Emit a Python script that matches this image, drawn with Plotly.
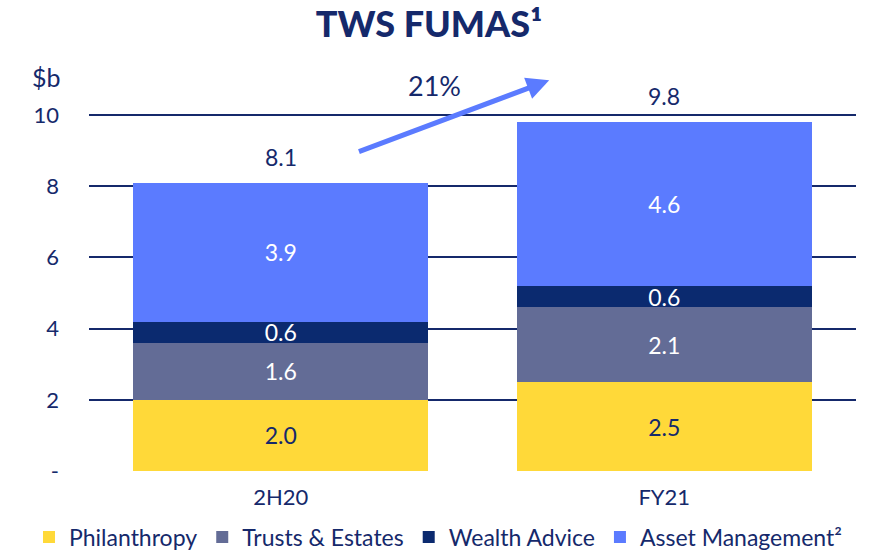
import plotly.graph_objects as go

categories = ["2H20", "FY21"]
philanthropy = [2.0, 2.5]
trusts = [1.6, 2.1]
wealth = [0.6, 0.6]
asset = [3.9, 4.6]
totals = [8.1, 9.8]
growth_label = "21%"
ytick_vals = [0, 2, 4, 6, 8, 10]
ytick_text = ["-", "2", "4", "6", "8", "10"]

NAVY = "#15296b"
FONT = "Lato"

W, H = 886, 551
ML, MR, MT, MB = 89, 30, 76, 80
PW, PH = W - ML - MR, H - MT - MB


def px_x(p):
    return (p - ML) / PW


def px_y(p):
    return (H - MB - p) / PH


series = [
    ("Philanthropy", philanthropy, "#ffd939", NAVY),
    ("Trusts & Estates", trusts, "#636c96", "white"),
    ("Wealth Advice", wealth, "#0b2a6f", "white"),
    ("Asset Management²", asset, "#5b7bff", "white"),
]

fig = go.Figure()
for name, vals, color, tcolor in series:
    fig.add_trace(go.Bar(
        x=categories, y=vals, name=name,
        marker=dict(color=color, line=dict(width=0)),
        text=[f"{v:.1f}" for v in vals], textposition="inside",
        insidetextanchor="middle", textangle=0,
        textfont=dict(color=tcolor, size=23, family=FONT),
        width=0.77, hoverinfo="skip",
    ))

for c, t in zip(categories, totals):
    fig.add_annotation(x=c, y=t, text=f"{t:.1f}", showarrow=False,
                       yanchor="bottom", yshift=10, bgcolor="white",
                       font=dict(size=23, color=NAVY, family=FONT))

# growth arrow
fig.add_annotation(x=0.70, y=10.98, ax=0.20, ay=8.96, xref="x", yref="y",
                   axref="x", ayref="y", text="", showarrow=True,
                   arrowhead=2, arrowsize=0.9, arrowwidth=5, arrowcolor="#5b7bff")
fig.add_annotation(x=0.40, y=10.84, xref="x", yref="y", text=growth_label,
                   xanchor="center", yanchor="middle",
                   showarrow=False, font=dict(size=27, color=NAVY, family=FONT))
fig.add_annotation(x=px_x(46), y=px_y(77), xref="paper", yref="paper", text="$b",
                   xanchor="center", yanchor="middle",
                   showarrow=False, font=dict(size=25, color=NAVY, family=FONT))

fig.update_layout(
    width=W, height=H,
    barmode="stack",
    paper_bgcolor="white", plot_bgcolor="white",
    margin=dict(l=ML, r=MR, t=MT, b=MB, autoexpand=False),
    title=dict(text="TWS FUMAS¹", x=429 / W, xanchor="center",
               y=1 - 24 / H, yanchor="middle", yref="container",
               font=dict(size=36, color=NAVY, family="Lato", weight=900)),
    showlegend=True,
    legend=dict(orientation="h", x=px_x(29), xanchor="left", y=px_y(537), yanchor="middle",
                font=dict(size=23, color=NAVY, family=FONT), traceorder="normal",
                itemwidth=30, tracegroupgap=0),
    uniformtext=dict(minsize=23, mode="show"),
    font=dict(family=FONT, color=NAVY),
)
fig.update_xaxes(range=[-0.5, 1.5], showgrid=False, showline=False, zeroline=False,
                 tickfont=dict(size=22, color=NAVY, family=FONT), ticklabelstandoff=11)
fig.update_yaxes(range=[0, 11.1], tickvals=ytick_vals, ticktext=ytick_text,
                 showgrid=True, gridcolor=NAVY, gridwidth=1.5, zeroline=False,
                 showline=False, tickfont=dict(size=22, color=NAVY, family=FONT),
                 ticklabelstandoff=29)

fig.write_html("out.html", config={"displayModeBar": False},
               post_script="document.body.style.margin='0';")
